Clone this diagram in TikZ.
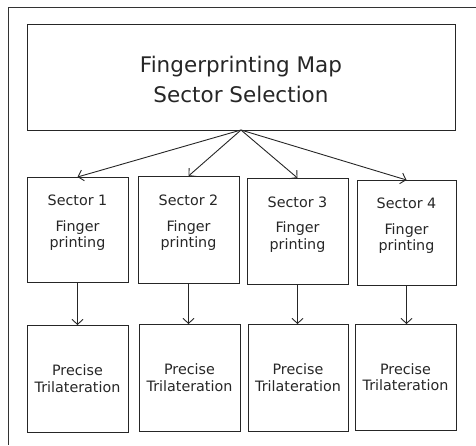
\documentclass[tikz,border=0pt]{standalone}
\usepackage{fontspec}
\setmainfont{DejaVu Sans}
\usetikzlibrary{arrows.meta}
\begin{document}
\begin{tikzpicture}[x=1pt,y=-1pt,
  line width=0.9pt,
  every node/.style={inner sep=0pt,outer sep=0pt},
  box/.style={draw=black!85,line width=0.9pt},
  bigtext/.style={font=\fontsize{21.5}{30}\selectfont,text=black!85,align=center},
  smalltext/.style={font=\fontsize{14.3}{16.5}\selectfont,text=black!85,align=center},
  arr/.style={draw=black!85,-{Straight Barb[length=5pt,width=11pt,line width=0.9pt]}}]
\useasboundingbox (0,0) rectangle (476,445);
% outer frame (only top and left visible)
\coordinate (frTR) at (476,7);
\coordinate (frTL) at (8,7);
\coordinate (frBL) at (8,445);
\draw[black!80,line width=0.9pt] (frTR) -- (frTL) -- (frBL);
% top box
\node[box,minimum width=428pt,minimum height=106pt] (top) at (241,77) {};
\node[bigtext] (toptext) at (241,79) {Fingerprinting Map\\Sector Selection};
% sector boxes
\node[box,minimum width=101pt,minimum height=105pt] (s1) at (77.5,229.5) {};
\node[box,minimum width=101pt,minimum height=107pt] (s2) at (188.5,229.5) {};
\node[box,minimum width=101pt,minimum height=106pt] (s3) at (297.5,231) {};
\node[box,minimum width=99pt,minimum height=105pt] (s4) at (406.5,232.5) {};
\foreach \i in {1,2,3,4}{
  \node[smalltext,anchor=center] (s\i a) at ([yshift=29pt]s\i.center) {Sector \i};
  \node[smalltext,anchor=center] (s\i b) at ([yshift=-6pt]s\i.center) {Finger\\printing};
}
% precise boxes
\node[box,minimum width=101pt,minimum height=107pt] (p1) at (77.5,378.5) {};
\node[box,minimum width=101pt,minimum height=107pt] (p2) at (189.5,377.5) {};
\node[box,minimum width=100pt,minimum height=107pt] (p3) at (298,377.5) {};
\node[box,minimum width=101pt,minimum height=106pt] (p4) at (405.5,377) {};
\foreach \i in {1,2,3,4}{
  \node[smalltext] (p\i t) at (p\i.center) {Precise\\Trilateration};
}
% arrows
\foreach \i in {1,2,3,4}{
  \draw[arr] (top.south) -- (s\i.north);
  \draw[arr] (s\i.south) -- (s\i.south |- p\i.north);
}
\end{tikzpicture}
\end{document}
